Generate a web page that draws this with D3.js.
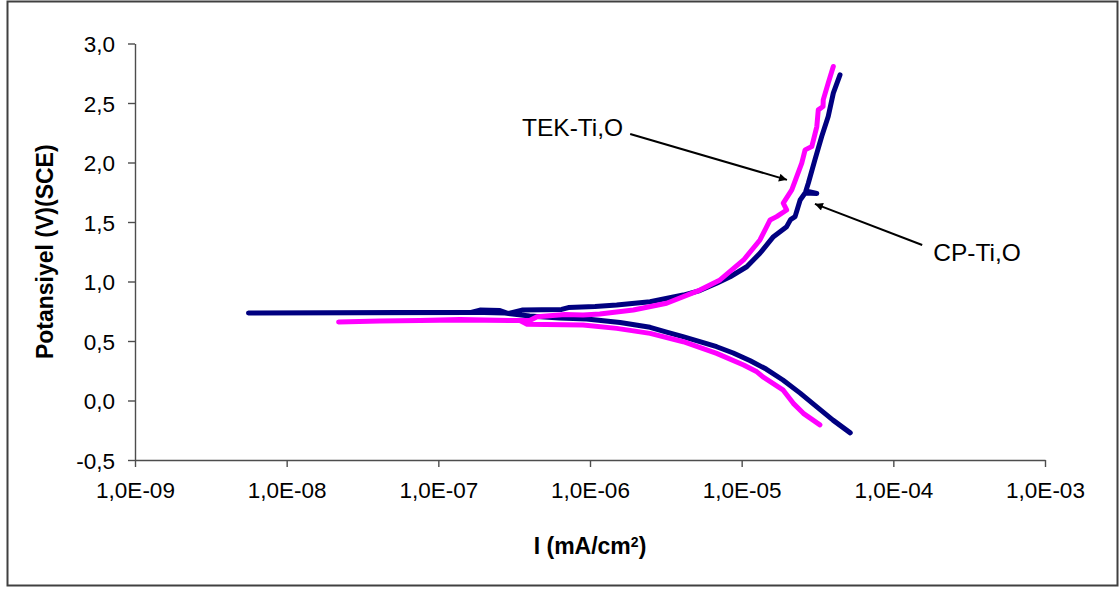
<!DOCTYPE html>
<html>
<head>
<meta charset="utf-8">
<script src="https://cdn.jsdelivr.net/npm/d3@7/dist/d3.min.js"></script>
<style>
  html, body { margin: 0; padding: 0; background: #fff; }
  svg { display: block; }
  text { font-family: "Liberation Sans", Arial, sans-serif; fill: #000; }
</style>
</head>
<body>
<svg id="chart" width="1120" height="590"></svg>
<script>
// Potentiodynamic polarization curves: current density I (mA/cm²) vs potential E (V vs SCE)
const xTicks = [1e-9, 1e-8, 1e-7, 1e-6, 1e-5, 1e-4, 1e-3];
const yTicks = [-0.5, 0.0, 0.5, 1.0, 1.5, 2.0, 2.5, 3.0];

// CP-Ti,O : cathodic end -> corrosion potential -> anodic end
const cpI = [5.2e-5, 4.0e-5, 3.13e-5, 2.43e-5, 1.87e-5, 1.45e-5, 1.14e-5, 8.8e-6, 6.84e-6, 5.3e-6,
             4.1e-6, 3.2e-6, 2.49e-6, 1.58e-6, 9.5e-7, 6.3e-7, 4.0e-7, 2.75e-7, 1.7e-7, 5.6e-8,
             5.6e-9,
             1.62e-7, 1.88e-7, 2.55e-7, 2.9e-7, 3.56e-7, 6.5e-7, 7.2e-7, 1.08e-6, 1.5e-6, 2.49e-6,
             4.12e-6, 5.3e-6, 6.84e-6, 8.4e-6, 1.08e-5, 1.32e-5, 1.62e-5, 1.98e-5, 2.1e-5, 2.25e-5,
             2.43e-5, 2.62e-5, 3.13e-5, 2.65e-5, 2.75e-5, 3.04e-5, 3.37e-5, 3.72e-5, 4.02e-5, 4.45e-5];
const cpE = [-0.272, -0.165, -0.053, 0.062, 0.172, 0.264, 0.334, 0.399, 0.452, 0.495,
             0.536, 0.575, 0.615, 0.655, 0.685, 0.693, 0.71, 0.735, 0.741, 0.74,
             0.735,
             0.739, 0.76, 0.756, 0.731, 0.76, 0.765, 0.781, 0.79, 0.802, 0.83,
             0.886, 0.924, 0.985, 1.04, 1.124, 1.237, 1.377, 1.461, 1.52, 1.545,
             1.685, 1.744, 1.74, 1.761, 1.826, 2.022, 2.218, 2.386, 2.583, 2.737];

// TEK-Ti,O : cathodic end -> corrosion potential -> anodic end
const tekI = [3.28e-5, 2.55e-5, 2.19e-5, 1.88e-5, 1.38e-5, 1.26e-5, 1.03e-5, 6.84e-6, 4.12e-6, 2.49e-6,
              1.5e-6, 9.0e-7, 3.85e-7, 3.45e-7, 1.39e-7, 4.1e-8,
              2.2e-8,
              4.1e-8, 1.39e-7, 4.0e-7, 4.48e-7, 6.84e-7, 9.0e-7, 1.16e-6, 1.93e-6, 3.2e-6,
              5.3e-6, 7.2e-6, 1.03e-5, 1.32e-5, 1.54e-5, 1.70e-5, 1.98e-5, 1.88e-5, 2.14e-5, 2.49e-5,
              2.62e-5, 2.9e-5, 3.13e-5, 3.2e-5, 3.44e-5, 3.45e-5, 3.72e-5, 4.02e-5];
const tekE = [-0.205, -0.108, -0.024, 0.087, 0.199, 0.241, 0.298, 0.396, 0.494, 0.564,
              0.606, 0.634, 0.64, 0.672, 0.676, 0.668,
              0.66,
              0.668, 0.676, 0.672, 0.704, 0.722, 0.718, 0.727, 0.76, 0.817,
              0.928, 1.013, 1.181, 1.349, 1.517, 1.545, 1.601, 1.658, 1.77, 1.994,
              2.106, 2.134, 2.302, 2.442, 2.47, 2.526, 2.667, 2.807];

const seriesNames = ["CP-Ti,O", "TEK-Ti,O"];
const seriesColors = ["#000080", "#ff00ff"];

// Label arrows: [tail I, tail E, head I, head E]
const tekArrow = [1.84e-6, 2.24, 1.99e-5, 1.854];
const cpArrow = [1.55e-4, 1.307, 3.04e-5, 1.652];

const svg = d3.select("#chart");
const W = 1120, H = 590;

// outer frame
svg.append("rect")
  .attr("x", 7.5).attr("y", 1.5)
  .attr("width", 1110).attr("height", 584)
  .attr("fill", "#fff").attr("stroke", "#404040").attr("stroke-width", 2);

const x = d3.scaleLog().domain([1e-9, 1e-3]).range([135, 1045]);
const y = d3.scaleLinear().domain([-0.5, 3.0]).range([460, 43.5]);

const fmtY = v => d3.format(".1f")(v).replace(".", ",").replace("−", "-");
const fmtX = v => {
  const e = Math.round(Math.log10(v));
  const s = Math.abs(e).toString().padStart(2, "0");
  return "1,0E" + (e < 0 ? "-" : "+") + s;
};

const axisColor = "#4d4d4d";

const gy = svg.append("g").attr("transform", `translate(${x.range()[0]},0)`)
  .call(d3.axisLeft(y).tickValues(yTicks).tickFormat(fmtY).tickSize(7).tickSizeOuter(0).tickPadding(13));
const gx = svg.append("g").attr("transform", `translate(0,${y.range()[0]})`)
  .call(d3.axisBottom(x).tickValues(xTicks).tickFormat(fmtX).tickSize(7).tickSizeOuter(0).tickPadding(14));

[gx, gy].forEach(g => {
  g.select(".domain").attr("stroke", axisColor).attr("stroke-width", 1.4);
  g.selectAll(".tick line").attr("stroke", axisColor).attr("stroke-width", 1.4);
  g.selectAll(".tick text")
    .style("font-family", '"Liberation Sans", Arial, sans-serif')
    .style("font-size", "22.5px").attr("fill", "#000");
});
gy.selectAll(".tick text").attr("dy", "0.36em");
gx.selectAll(".tick text").attr("dy", "0.75em");

// axis titles
svg.append("text")
  .attr("transform", `translate(53,${(y.range()[0] + y.range()[1]) / 2}) rotate(-90)`)
  .attr("text-anchor", "middle")
  .style("font-size", "23px").style("font-weight", "bold")
  .text("Potansiyel (V)(SCE)");

const xt = svg.append("text")
  .attr("x", 590).attr("y", 554)
  .attr("text-anchor", "middle")
  .style("font-size", "23px").style("font-weight", "bold");
xt.append("tspan").text("I (mA/cm");
xt.append("tspan").attr("dy", "-0.5em").style("font-size", "14px").text("2");
xt.append("tspan").attr("dy", "0.32em").text(")");

// curves
const line = d3.line().x(d => x(d[0])).y(d => y(d[1]));
const curves = [d3.zip(cpI, cpE), d3.zip(tekI, tekE)];
// draw CP first, TEK on top, then CP upper tail redrawn is unnecessary
curves.forEach((pts, i) => {
  svg.append("path")
    .datum(pts)
    .attr("d", line)
    .attr("fill", "none")
    .attr("stroke", seriesColors[i])
    .attr("stroke-width", 5)
    .attr("stroke-linejoin", "round")
    .attr("stroke-linecap", "round");
});

// arrowhead marker
svg.append("defs").append("marker")
  .attr("id", "ah").attr("viewBox", "0 0 10 10")
  .attr("refX", 10).attr("refY", 5)
  .attr("markerWidth", 5).attr("markerHeight", 4)
  .attr("markerUnits", "strokeWidth")
  .attr("orient", "auto")
  .append("path").attr("d", "M0,0 L10,5 L0,10 Z").attr("fill", "#000");

[tekArrow, cpArrow].forEach(a => {
  svg.append("line")
    .attr("x1", x(a[0])).attr("y1", y(a[1]))
    .attr("x2", x(a[2])).attr("y2", y(a[3]))
    .attr("stroke", "#000").attr("stroke-width", 2)
    .attr("marker-end", "url(#ah)");
});

// series labels
svg.append("text")
  .attr("x", x(tekArrow[0]) - 7).attr("y", y(tekArrow[1]) + 2)
  .attr("text-anchor", "end")
  .style("font-size", "24.5px")
  .text(seriesNames[1]);
svg.append("text")
  .attr("x", x(cpArrow[0]) + 11).attr("y", y(cpArrow[1]) + 16)
  .attr("text-anchor", "start")
  .style("font-size", "24.5px")
  .text(seriesNames[0]);
</script>
</body>
</html>
